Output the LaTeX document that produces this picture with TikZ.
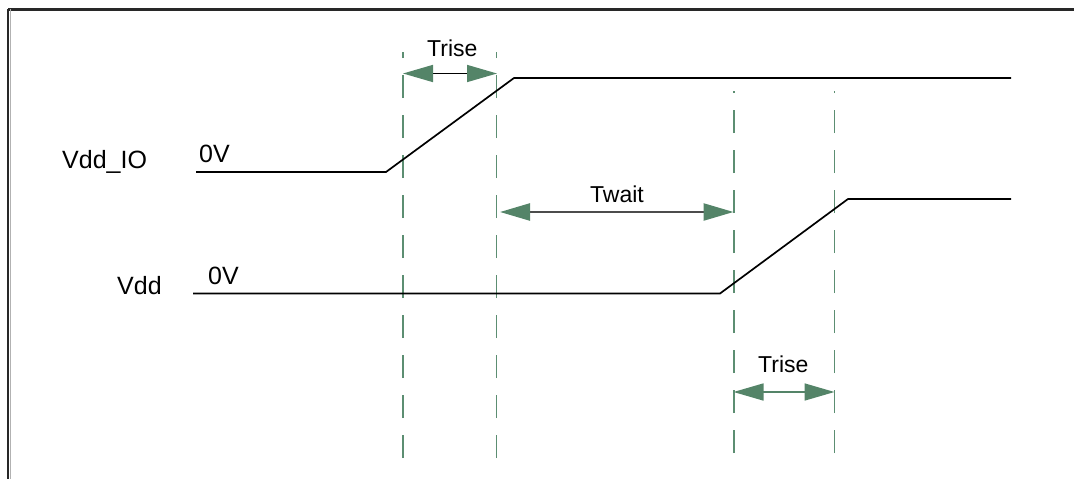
\documentclass[tikz,border=0pt]{standalone}
\usepackage{fontspec}
\setmainfont{Liberation Sans}
\usetikzlibrary{arrows.meta}
\definecolor{dgreen}{RGB}{84,132,104}
\definecolor{dashgreen}{RGB}{92,142,114}
\definecolor{framegray}{RGB}{40,40,40}
\tikzset{
  signal/.style={line width=1.7pt,black},
  guide/.style={line width=1.6pt,dashgreen,dash pattern=on 23pt off 17pt},
  lbl/.style={inner sep=0pt,anchor=base west,font=\fontsize{25}{30}\selectfont},
  tlbl/.style={inner sep=0pt,anchor=base west,font=\fontsize{23}{28}\selectfont},
  dim/.style={{Triangle[length=30pt,width=17pt,fill=dgreen,color=dgreen]}-{Triangle[length=30pt,width=17pt,fill=dgreen,color=dgreen]}},
}
\begin{document}
\begin{tikzpicture}[x=1pt,y=-1pt]
\useasboundingbox (0,0) rectangle (1074,479);
% frame
\coordinate (fTL) at (8,9);
\coordinate (fTR) at (1074,9);
\coordinate (fBL) at (8,479);
\draw[line width=3pt,framegray] (fTR) -- (fTL);
\draw[line width=2.4pt,framegray] (fTL) -- (fBL);
\draw[line width=1pt,gray!60] ([xshift=2.2pt]fTL) -- ([xshift=2.2pt]fBL);

% guide coordinates
\coordinate (g1t) at (402.7,52); \coordinate (g1b) at (402.7,458);
\coordinate (g2t) at (496.5,52); \coordinate (g2b) at (496.5,458);
\coordinate (g3t) at (733.8,91); \coordinate (g3b) at (733.8,453);
\coordinate (g4t) at (834.3,91); \coordinate (g4b) at (834.3,453);
\draw[guide] (g1b) -- (g1t);
\draw[guide] (g2b) -- (g2t);
\draw[guide] (g3b) -- (g3t);
\draw[guide] (g4b) -- (g4t);

% Vdd_IO signal
\coordinate (a0) at (196,172);
\coordinate (a1) at (386,172);
\coordinate (a2) at (514,78);
\coordinate (a3) at (1011,78);
\draw[signal] (a0) -- (a1) -- (a2) -- (a3);

% Vdd signal
\coordinate (b0) at (193,293.5);
\coordinate (b1) at (720,293.5);
\coordinate (b2) at (848,199);
\coordinate (b3) at (1011,199);
\draw[signal] (b0) -- (b1) -- (b2) -- (b3);

% dimension arrows
\coordinate (t1l) at (403,73.5); \coordinate (t1r) at (497,73.5);
\coordinate (twl) at (500,212); \coordinate (twr) at (733.5,212);
\coordinate (t2l) at (733.5,392); \coordinate (t2r) at (834.5,392);
\draw[dim,line width=1.6pt,black] (t1l) -- (t1r);
\draw[dim,line width=2.4pt,black!70] (twl) -- (twr);
\draw[dim,line width=1.6pt,dgreen] (t2l) -- (t2r);

% labels
\node[lbl] (lvddio) at (62,168) {Vdd\_IO};
\node[lbl] (l0v1) at (199,162) {0V};
\node[lbl] (lvdd) at (117,294) {Vdd};
\node[lbl] (l0v2) at (208,284) {0V};
\node[tlbl] (ltr1) at (427,56) {Trise};
\node[tlbl] (ltw) at (590,202) {Twait};
\node[tlbl] (ltr2) at (758,372) {Trise};
\end{tikzpicture}
\end{document}
